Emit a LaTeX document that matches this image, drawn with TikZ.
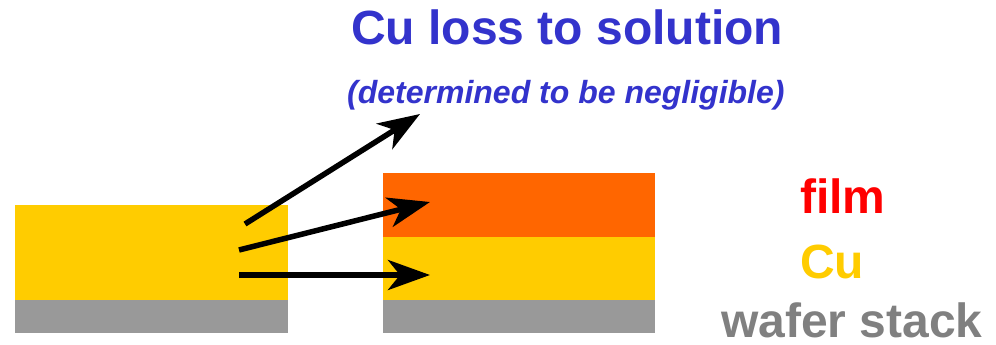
\documentclass[tikz,border=0pt]{standalone}
\usepackage{fontspec}
\setmainfont{Liberation Sans}
\usetikzlibrary{arrows.meta}
\definecolor{cuY}{HTML}{FFCC00}
\definecolor{filmO}{HTML}{FF6600}
\definecolor{waferG}{HTML}{999999}
\definecolor{txtG}{HTML}{808080}
\definecolor{titleB}{HTML}{3333CC}
\definecolor{filmR}{HTML}{FF0000}
\tikzset{
  layer/.style={draw=none,inner sep=0pt,outer sep=0pt},
  lbl/.style={inner sep=0pt,anchor=base west,font=\bfseries\fontsize{48}{50}\selectfont},
  flux/.style={line width=5.5pt,-{Stealth[length=42pt,width=30pt,inset=12pt]}}
}
\begin{document}
\begin{tikzpicture}[x=1pt,y=-1pt]
\useasboundingbox (0,0) rectangle (996,345);
% left stack
\fill[cuY] (15,205) rectangle (288,300);
\fill[waferG] (15,300) rectangle (288,333);
% right stack
\fill[filmO] (383,173) rectangle (655,237);
\fill[cuY] (383,237) rectangle (655,300);
\fill[waferG] (383,300) rectangle (655,333);
% texts
\node[lbl,text=titleB] (title) at (351,45) {Cu loss to solution};
\node[lbl,text=titleB,font=\bfseries\itshape\fontsize{32}{34}\selectfont] (sub) at (347,103) {(determined to be negligible)};
\node[lbl,text=filmR] (film) at (800,213) {film};
\node[lbl,text=cuY] (cu) at (800,278) {Cu};
\node[lbl,text=txtG] (wafer) at (721,337) {wafer stack};
% arrows
\coordinate (s1) at (245,224);
\coordinate (e1) at (420,114);
\coordinate (s2) at (239,250);
\coordinate (e2) at (430,202);
\coordinate (s3) at (239,275);
\coordinate (e3) at (430,275);
\draw[flux] (s1) -- (e1);
\draw[flux] (s2) -- (e2);
\draw[flux] (s3) -- (e3);
\end{tikzpicture}
\end{document}
